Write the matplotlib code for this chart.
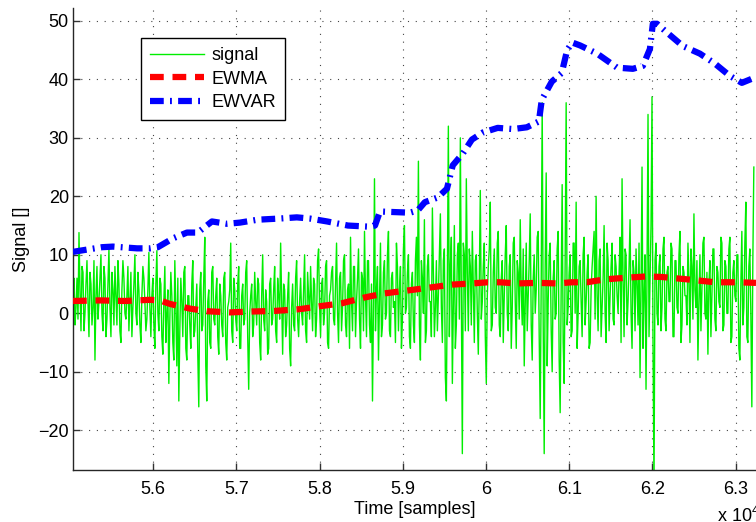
import numpy as np
import matplotlib
matplotlib.use("Agg")
import matplotlib.pyplot as plt
from matplotlib.ticker import FuncFormatter, FixedLocator

plt.rcParams['font.family'] = ['Liberation Sans', 'DejaVu Sans']
plt.rcParams['mathtext.fontset'] = 'custom'
plt.rcParams['mathtext.rm'] = 'Liberation Sans'
plt.rcParams['mathtext.it'] = 'Liberation Sans'

# ---------------- data ----------------
sig_start = 55035      # first sample shown
sig_step = 12          # samples between plotted signal points
signal = [
    # 5.50 - 5.59
    3, 6, -2, 1, 6, -1, 13.8, 4, -3, 8, 7, -3, 0, 5, 9, 2, -4, 7, 5, -2, 1, 9, -8, 3, 8, -1, 2, 6, 10, 0,
    -3, 8, 6, -4, -1, 5, 11, 1, -4, 7, 4, -2, 8, 3, -2, 9, 5, -3, -5, 4, 9, 6, 0, -1, 3, 8, -3, 2, 7, -4,
    1, 5, 10, 0, -2, 7, 4, -2, -5, 3, 8, 6, 2, -3, -1, 4, 10.4, 1,
    # 5.59 - 5.78
    -4, 3, 6, -2, -6, 5, 10.7, 0, -3, 6, 5, -4, -7, 2, 8, -5, 0, 4, -12, -1, 7, 3, -5, -8, 9, 1, -9, 6,
    -15, -3, 6, 2, -4, 7, 8, -6, -8, 3, 3, -2,
    -6, 5, 9, -4, -3, 1, 5, -7, -16, 4, 7, -3, -2, 6, 13, -9, -15, 2, 4, -5, -6, 7, 8, -1, -2, 3, 6, -4,
    -7, 5, 3, -2, -4, 6, 7, -5, -8, 1, 2, 4,
    12, -3, -5, 6, 4, -1, -3, 5, 8, -6, -6, 3, 5, -2, -1, 7, 9, -4, -13, 0, 3, 5, -4, -2, 7, 2, -2, 6,
    5, -5, -8, 3, 10, -1, -3, 4, 2, -7, -6, 5,
    6, -2, -1, 4, 8, -3, -5, 6, 3, -1, 12, 2, -7, 5, 4, -4, -2, 3, 7, -6, -9, 1, 5, -2, -3, 6, 9, -1, -4, 2,
    # 5.78 - 5.95
    6, 0, -2, 4, 10, -3, -5, 7, 3, -1, 8, 2, -3, 6, 5, -4, -1, 9, 11, 1, -4, 5, 6, -2, 0, 8, 9, -5, -6, 3,
    4, 7, 8, -1, -2, 5, 12, 0, -5, 6,
    7, -3, 1, 9, 10, -2, -4, 4, 5, -6, 13, 2, -3, 8, 8, -4, 2, 6, 11, -1, -6, 7, 6, -3, 14, 3, -4, 9,
    9, -2, -5, 5, -15, 1, 23, -3, 4, 8, -8, 2,
    12, -4, -2, 7, 9, -1, 0, 10, 14, -3, -4, 6, 7, 1, 2, -5, 12, 8, -3, 4, 8, -6, -1, 11, 15, 0, 1, 7,
    10, -4, -6, 5, 7, -2, -5, 9, 13, 3, 26, -2,
    -8, 9, 6, 0, 16, -5, -3, 8, 10, 2, 2, -4, 18, 7, -4, 1, 9, -3, 3, 10,
    # 5.95 - 6.07
    17, 1, -5, 9, 11, -11, -15, 6, 32, -4, 8, 13, -12, 2, 15, -6, -2, 10, 12, -1, 30, 4, -24, 12, 10, -3,
    23, 7, -3, 11, 8, -2, 14, 5, -5, 9, 10, 0, -7, 6,
    21, -1, 2, 8, 12, -4, -12, 3, 8, 11, 19, -3, -2, 7, 11, 1, 0, 12, 14, -2, -4, 6, 9, -5, 3, 10, 15, 0,
    -3, 8, 10, -6, 1, 12, 13, 2, -6, 9, 7, -1,
    16, 4, -2, 11, -9, 1, 12, -3, 3, 9, 17, -2, -8, 6, 10, 0, 4, 13, 14, -4,
    # 6.07 - 6.32
    -18, 5, 36, -2, -24, 8, 24, -9, 2, 10, 12, -3, -10, 6, 9, -1, 0, 11, 14, -8, -17, 4, 22, -5, -12, 9,
    36, -2, 1, 7, 10, -4, -3, 12, 12, 0, 19, -6, 0, 8,
    9, 2, -4, 10, 13, -2, 2, 7, 10, -6, -5, 4, 8, 11, 14, -1, 20, 3, -3, 9, 11, -4, 1, 6, 15, 0, -5, 12,
    9, -3, 3, 8, 12, -1, -2, 10, 8, 3, 0, 7,
    13, -5, 23, 6, -4, 11, 10, -2, 2, 8, 16, 0, -6, 9, 7, -3, 11, 5, -2, 12, -11, 4, 25, -6, 3, 10,
    -13, 7, 34, -4, 5, 15, 37, -5, -30, 9, 12, 0, -2, 8,
    10, -3, 1, 11, 13, -1, -3, 7, 8, 2, 2, 12, 11, -4, -4, 9, 9, 1, 0, 10, 14, -5, -2, 8, 7, 3, 3, -2,
    12, 6, -5, 11, 8, -1, 17, 4, 1, 9, -8, 2,
    10, -3, 4, 12, 13, 0, -1, 7, -7, 5, 9, -4, 3, 11, 11, -1, -3, 8, 7, 2, 1, 13, 12, -3, -2, 9, 8, 0,
    0, 11, 13, -5, -4, 7, 9, 3, 2, 10, 10, -6,
    -8, 5, 14, -2, 1, 12, 19, -4, -5, 8, 11, 0, -16, 9, 25,
]

ewma_x = [55035, 55360, 55660, 55960, 56080, 56200, 56320, 56440, 56645, 56920,
          57185, 57460, 57760, 58000, 58265, 58540, 58780, 59060, 59325, 59590,
          59830, 60020, 60165, 60370, 60620, 60860, 61030, 61210, 61430, 61705,
          61935, 62115, 62270, 62490, 62750, 63030, 63245]
ewma = [2.1, 2.2, 2.1, 2.3, 2.2, 1.6, 1.2, 0.8, 0.35, 0.15,
        0.3, 0.4, 0.7, 1.2, 1.7, 2.7, 3.4, 3.9, 4.4, 4.9,
        5.1, 5.3, 5.3, 5.1, 5.2, 5.1, 5.3, 5.3, 5.8, 6.1,
        6.3, 6.2, 6.0, 5.7, 5.3, 5.3, 5.2]

ewvar_x = [55035, 55120, 55385, 55515, 55805, 55960, 56055, 56235, 56405, 56535,
           56705, 56885, 57040, 57255, 57520, 57725, 57880, 58090, 58340, 58605,
           58665, 58725, 59085, 59180, 59265, 59420, 59530, 59600, 59720, 59830,
           59960, 60140, 60325, 60490, 60635, 60670, 60790, 60910, 60975, 61035,
           61130, 61335, 61575, 61765, 61885, 61970, 62005, 62055, 62175, 62365,
           62570, 62750, 62930, 63075, 63195, 63245]
ewvar = [10.5, 10.7, 11.3, 11.4, 11.1, 11.1, 11.3, 12.8, 13.8, 13.8,
         15.7, 15.3, 15.5, 16.0, 16.2, 16.4, 16.2, 15.7, 15.0, 14.8,
         15.0, 17.4, 17.2, 17.6, 19.0, 19.8, 21.3, 25.3, 27.3, 29.7,
         30.9, 31.7, 31.5, 31.8, 32.8, 36.5, 39.6, 41.1, 45.0, 46.3,
         45.8, 44.4, 42.0, 41.8, 42.3, 45.2, 49.5, 49.5, 48.0, 45.7,
         44.4, 42.7, 40.6, 39.4, 40.1, 40.6]

xticks = [56000, 57000, 58000, 59000, 60000, 61000, 62000, 63000]
yticks = [-20, -10, 0, 10, 20, 30, 40, 50]
labels = ['signal', 'EWMA', 'EWVAR']

# ---------------- figure ----------------
W, H = 756, 522
fig = plt.figure(figsize=(W / 100, H / 100), dpi=100)
ax = fig.add_axes([73 / W, (H - 470) / H, (W - 73) / W, (470 - 8) / H])

sig_x = sig_start + sig_step * np.arange(len(signal))
ax.plot(sig_x, signal, color='#00ee00', lw=1.0, label=labels[0], zorder=2)
ax.plot(ewma_x, ewma, color='#ff0000', lw=4.5, linestyle=(0, (2.2, 1.4)),
        label=labels[1], zorder=3)
ax.plot(ewvar_x, ewvar, color='#0000ff', lw=4.5, linestyle=(0, (2.2, 1.0, 0.3, 1.0)),
        label=labels[2], zorder=3)

ax.set_xlim(55035, 63245)
ax.set_ylim(-26.8, 52.2)
ax.xaxis.set_major_locator(FixedLocator(xticks))
ax.yaxis.set_major_locator(FixedLocator(yticks))
ax.xaxis.set_major_formatter(FuncFormatter(lambda v, p: '%g' % (v / 1e4)))

fs = 13
ax.tick_params(axis='both', direction='in', length=5, width=1, color='#333333',
               labelsize=fs, labelcolor='black')
ax.tick_params(axis='x', pad=8)
ax.tick_params(axis='y', pad=3)

ax.grid(True, linestyle=(0, (1, 6)), color='#444444', lw=0.8)
for s in ['top', 'right']:
    ax.spines[s].set_visible(False)
for s in ['left', 'bottom']:
    ax.spines[s].set_color('#262626')
    ax.spines[s].set_linewidth(1.0)

ax.set_xlabel('Time [samples]', fontsize=fs, labelpad=2)
ax.set_ylabel('Signal []', fontsize=fs, labelpad=6)

leg = ax.legend(loc='upper left', bbox_to_anchor=((141 - 73) / (W - 73), (470 - 38) / 462),
                borderaxespad=0, fontsize=fs, frameon=True, fancybox=False,
                handlelength=3.0, handletextpad=0.4, borderpad=0.5,
                labelspacing=0.37, edgecolor='black')
leg.get_frame().set_linewidth(1.0)
leg.get_frame().set_alpha(1)

fig.text(717 / W, 1 - 516 / H, r'x 10$^{4}$', fontsize=fs, ha='left', va='center')

fig.savefig('out.png', dpi=100)
